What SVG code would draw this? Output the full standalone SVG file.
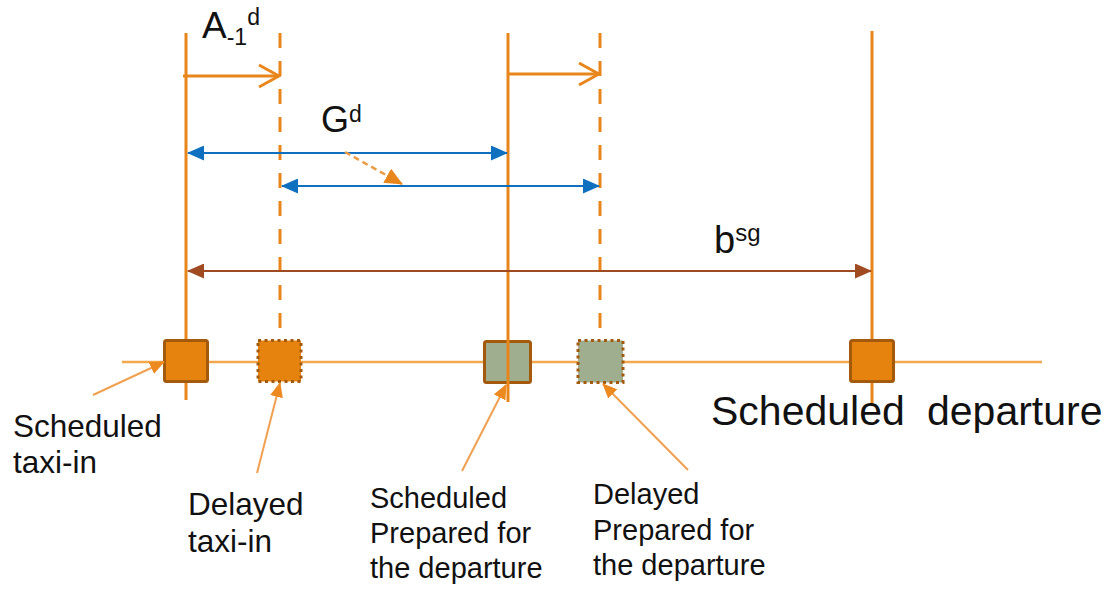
<svg xmlns="http://www.w3.org/2000/svg" width="1112" height="589" viewBox="0 0 1112 589">
  <style>
    text { font-family: "Liberation Sans", Arial, sans-serif; fill: #111; }
    .vline { stroke: #e8861c; stroke-width: 3; fill: none; }
    .dash { stroke-dasharray: 15 13; }
    .timeline { stroke: #f2a84e; stroke-width: 2.5; }
    .box-or { fill: #e6830f; }
    .box-gr { fill: #9fae8f; }
    .edge { stroke: #a45a0c; stroke-width: 3; }
    .dotted { stroke-dasharray: 3 3.5; }
    .lab { font-size: 31.5px; }
    .lab2 { font-size: 29px; }
    .ptr { stroke: #f0a050; stroke-width: 2; fill: none; }
    .blue { stroke: #1070c0; stroke-width: 2; fill: none; }
    .brown { stroke: #a04a22; stroke-width: 2; fill: none; }
    .shift { stroke: #e8861c; stroke-width: 3; fill: none; }
  </style>
  <defs>
    <marker id="open" viewBox="0 0 24 26" refX="22" refY="13" markerWidth="24" markerHeight="26" markerUnits="userSpaceOnUse" orient="auto">
      <path d="M2 2 L22 13 L2 24" fill="none" stroke="#e8861c" stroke-width="3"/>
    </marker>
    <marker id="blueHead" viewBox="0 0 17 15" refX="16" refY="7.5" markerWidth="17" markerHeight="15" markerUnits="userSpaceOnUse" orient="auto-start-reverse">
      <path d="M0 0 L17 7.5 L0 15 Z" fill="#1070c0"/>
    </marker>
    <marker id="brownHead" viewBox="0 0 17 15" refX="16" refY="7.5" markerWidth="17" markerHeight="15" markerUnits="userSpaceOnUse" orient="auto-start-reverse">
      <path d="M0 0 L17 7.5 L0 15 Z" fill="#a04a22"/>
    </marker>
    <marker id="ptrHead" viewBox="0 0 15 13" refX="14" refY="6.5" markerWidth="15" markerHeight="13" markerUnits="userSpaceOnUse" orient="auto">
      <path d="M0 0 L15 6.5 L0 13 Z" fill="#ec8a20"/>
    </marker>
    <marker id="dashHead" viewBox="0 0 18 16" refX="17" refY="8" markerWidth="18" markerHeight="16" markerUnits="userSpaceOnUse" orient="auto">
      <path d="M0 0 L18 8 L0 16 Z" fill="#e8861c"/>
    </marker>
  </defs>

  <!-- time axis -->
  <line class="timeline" x1="122" y1="362" x2="1042" y2="362"/>

  <!-- event nodes: reference line plus marker box -->
  <g id="scheduled-taxi-in">
    <line class="vline" x1="186" y1="33" x2="186" y2="400"/>
    <rect class="box-or edge" x="164.5" y="340.5" width="43" height="41" rx="2"/>
    <text class="lab" x="13" y="437">Scheduled</text>
    <text class="lab" x="13" y="473">taxi-in</text>
  </g>

  <g id="delayed-taxi-in">
    <line class="vline dash" x1="280" y1="33" x2="280" y2="338"/>
    <rect class="box-or edge dotted" x="258" y="340.5" width="43" height="41"/>
    <text class="lab" x="188" y="515">Delayed</text>
    <text class="lab" x="188" y="552">taxi-in</text>
  </g>

  <g id="scheduled-prepared">
    <rect class="box-gr edge" x="484.5" y="341.5" width="46" height="41" rx="2"/>
    <line class="vline" x1="508" y1="33" x2="508" y2="402"/>
    <text class="lab2" x="370" y="508">Scheduled</text>
    <text class="lab2" x="370" y="543">Prepared for</text>
    <text class="lab2" x="370" y="578">the departure</text>
  </g>

  <g id="delayed-prepared">
    <line class="vline dash" x1="600" y1="33" x2="600" y2="337"/>
    <rect class="box-gr edge dotted" x="578" y="340.5" width="45" height="42"/>
    <text class="lab2" x="593" y="504">Delayed</text>
    <text class="lab2" x="593" y="540">Prepared for</text>
    <text class="lab2" x="593" y="575">the departure</text>
  </g>

  <g id="scheduled-departure">
    <line class="vline" x1="872" y1="31" x2="872" y2="404"/>
    <rect class="box-or edge" x="850.5" y="340.5" width="43" height="41" rx="2"/>
    <text font-size="41" x="711" y="425">Scheduled</text>
    <text font-size="41" x="927" y="425">departure</text>
  </g>

  <!-- interval labels -->
  <g id="labels">
    <text font-size="37" x="202" y="38">A<tspan font-size="23" dy="7">-1</tspan><tspan font-size="23" dy="-20">d</tspan></text>
    <text font-size="36" x="321" y="132">G<tspan font-size="23" dy="-10">d</tspan></text>
    <text font-size="38" x="714" y="253">b<tspan font-size="24" dy="-12">sg</tspan></text>
  </g>

  <!-- connectors -->
  <g id="connectors">
    <line class="shift" x1="183" y1="76" x2="279" y2="76" marker-end="url(#open)"/>
    <line class="shift" x1="508" y1="74" x2="599" y2="74" marker-end="url(#open)"/>
    <line class="blue" x1="188" y1="153" x2="507" y2="153" marker-start="url(#blueHead)" marker-end="url(#blueHead)"/>
    <line class="blue" x1="282" y1="186" x2="599" y2="186" marker-start="url(#blueHead)" marker-end="url(#blueHead)"/>
    <line stroke="#eb9a45" stroke-width="2.5" stroke-dasharray="6 4" x1="345" y1="152" x2="402" y2="184" marker-end="url(#dashHead)"/>
    <line class="brown" x1="188" y1="271" x2="871" y2="271" marker-start="url(#brownHead)" marker-end="url(#brownHead)"/>
    <line class="ptr" x1="93" y1="395" x2="164" y2="362" marker-end="url(#ptrHead)"/>
    <line class="ptr" x1="257" y1="473" x2="280" y2="383" marker-end="url(#ptrHead)"/>
    <line class="ptr" x1="462" y1="471" x2="506" y2="385" marker-end="url(#ptrHead)"/>
    <line class="ptr" x1="688" y1="470" x2="603" y2="384" marker-end="url(#ptrHead)"/>
  </g>
</svg>
